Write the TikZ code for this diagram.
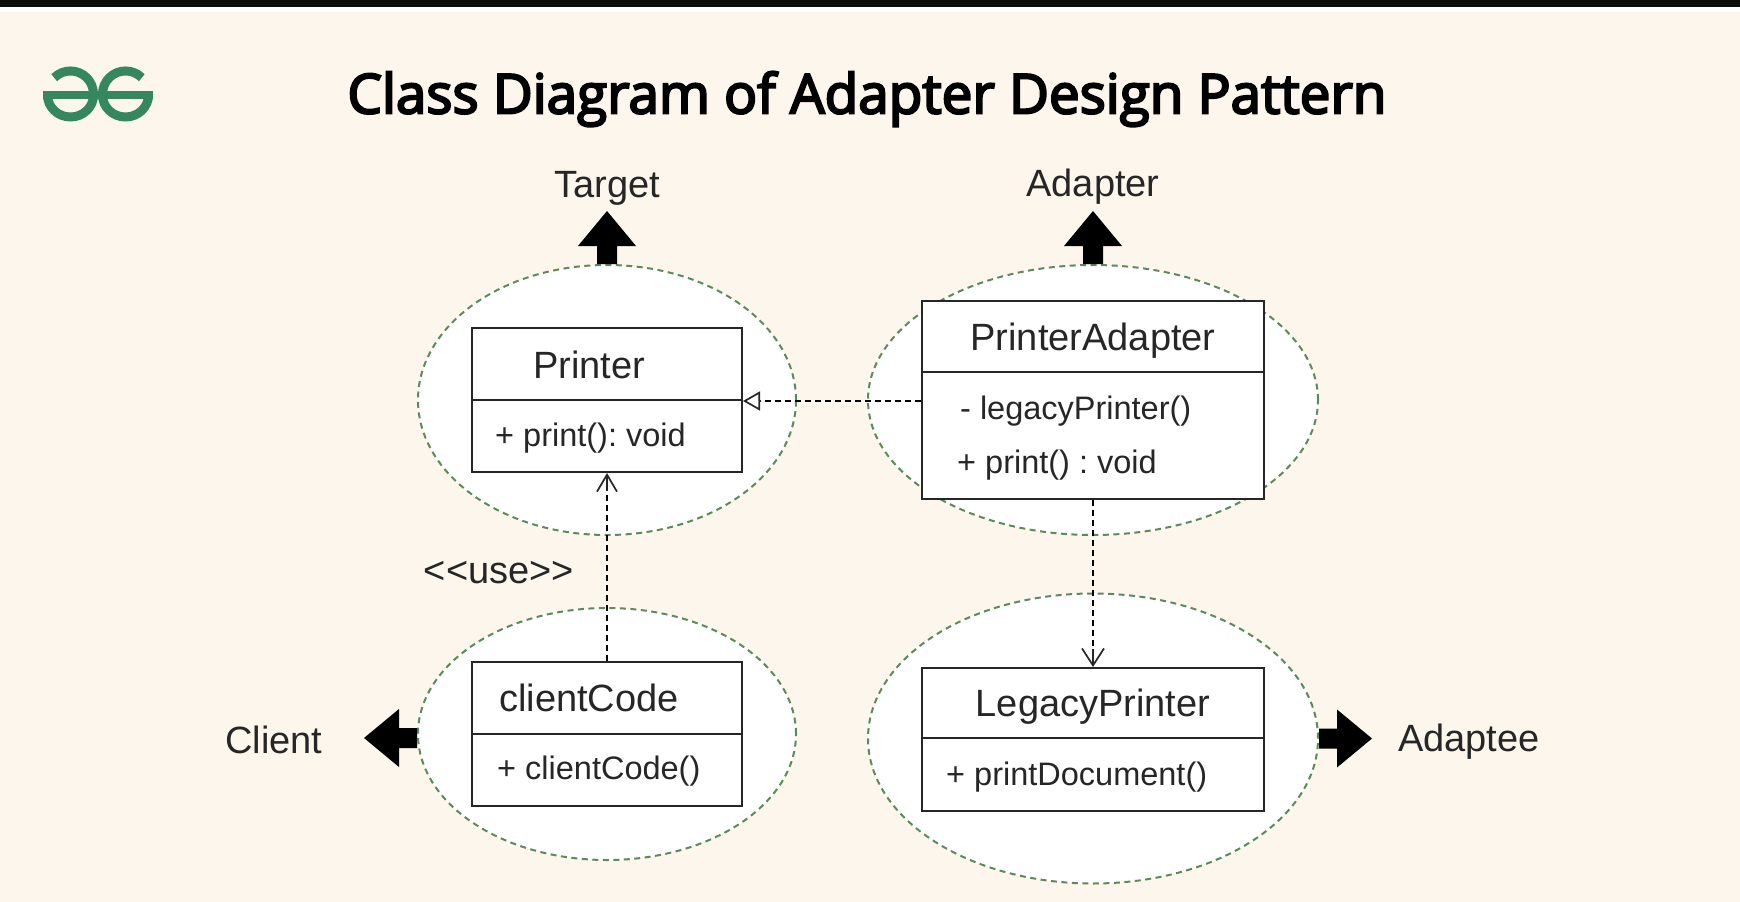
\documentclass[tikz,border=0pt]{standalone}
\usepackage{fontspec}
\setmainfont{Liberation Sans}
\newfontfamily\titlefont{Open Sans}[FakeBold=4]
\usetikzlibrary{arrows.meta,shapes.geometric,calc}
\definecolor{bgcream}{HTML}{FDF6EC}
\definecolor{gfgreen}{HTML}{35875F}
\definecolor{ringgreen}{HTML}{5C8A5C}
\definecolor{inkdark}{HTML}{262626}
\newcommand{\fs}[1]{\fontsize{#1}{#1}\selectfont\frenchspacing}
\tikzset{
  ring/.style={ellipse,draw=ringgreen,fill=white,line width=2pt,dash pattern=on 6pt off 4.5pt,inner sep=0pt},
  part/.style={rectangle,draw=inkdark,fill=white,line width=2pt,inner sep=0pt},
  head/.style={inner sep=0pt,text=inkdark,font=\fs{38}},
  member/.style={inner sep=0pt,anchor=west,text=inkdark,font=\fs{32.5}},
  role/.style={inner sep=0pt,text=inkdark,font=\fs{38}},
  link/.style={draw=black,line width=1.7pt,dash pattern=on 6pt off 4pt},
  bigarrow/.pic={\fill[black] (-10,0) -- (-10,-18) -- (-29,-18) -- (0,-53) -- (29,-18) -- (10,-18) -- (10,0) -- cycle;}
}
\begin{document}
\begin{tikzpicture}[x=1pt,y=-1pt]
\useasboundingbox (0,0) rectangle (1740,902);
\fill[bgcream] (0,0) rectangle (1740,902);
\fill[white] (0,0) rectangle (1740,12);
\fill[black!95] (0,0) rectangle (1740,7);
% logo
\begin{scope}[gfgreen,line width=9pt]
  \draw (54.2,77.7) arc[start angle=135,end angle=0,x radius=23,y radius=-23];
  \draw (141.8,77.7) arc[start angle=45,end angle=180,x radius=23,y radius=-23];
  \draw (47.5,95) arc[start angle=180,end angle=360,x radius=23,y radius=-22];
  \draw (102.5,95) arc[start angle=180,end angle=360,x radius=23,y radius=-22];
\end{scope}
\fill[gfgreen] (43,91) rectangle (153,99);
% title
\node[inner sep=0pt,text=black,font=\titlefont\fs{54.8}] (title) at (867,99) {Class Diagram of Adapter Design Pattern};
% rings
\node[ring,minimum width=378pt,minimum height=270pt] (printerRing) at (607,400) {};
\node[ring,minimum width=450pt,minimum height=270pt] (adapterRing) at (1093,400) {};
\node[ring,minimum width=378pt,minimum height=252pt] (clientRing) at (607,734) {};
\node[ring,minimum width=450pt,minimum height=290pt] (adapteeRing) at (1093,738.5) {};
% class boxes
\node[part,minimum width=270pt,minimum height=72pt] (printerHead) at (607,364) {};
\node[part,minimum width=270pt,minimum height=72pt] (printerBody) at (607,436) {};
\node[part,minimum width=342pt,minimum height=71pt] (adapterHead) at (1093,336.5) {};
\node[part,minimum width=342pt,minimum height=127pt] (adapterBody) at (1093,435.5) {};
\node[part,minimum width=270pt,minimum height=72pt] (clientHead) at (607,698) {};
\node[part,minimum width=270pt,minimum height=72pt] (clientBody) at (607,770) {};
\node[part,minimum width=342pt,minimum height=70pt] (legacyHead) at (1093,703) {};
\node[part,minimum width=342pt,minimum height=73pt] (legacyBody) at (1093,774.5) {};
% class texts
\node[head] (tPrinter) at (589,365) {Printer};
\node[member] (mPrint) at (495,438) {+ print(): void};
\node[head] (tAdapter) at (1093,341) {PrinterAdapter};
\node[member] (mLegacy) at (960,411) {-\hspace{9pt}legacyPrinter()};
\node[member] (mPrintB) at (957,465) {+ print() : void};
\node[head] (tClient) at (589,698) {clientCode};
\node[member] (mClient) at (497,771) {+ clientCode()};
\node[head] (tLegacy) at (1093,707) {LegacyPrinter};
\node[member] (mDoc) at (946,777) {+ printDocument()};
% role labels
\node[role] (rTarget) at (607,188) {Target};
\node[role] (rAdapter) at (1093,187) {Adapter};
\node[role] (rClient) at (274,740) {Client};
\node[role] (rAdaptee) at (1469,742) {Adaptee};
\node[role] (rUse) at (499,573) {<{}<use>{}>};
% thick arrows
\pic[rotate=90] at ($(clientRing.west)+(0,4)$) {bigarrow};
\pic at (printerRing.north) {bigarrow};
\pic at (adapterRing.north) {bigarrow};
\pic[rotate=-90] at (adapteeRing.east) {bigarrow};
% connectors
\draw[link] (adapterBody.west |- printerHead.south east) -- (printerHead.south east);
\draw[draw=inkdark,line width=1.7pt,-{Triangle[open,fill=white,length=17pt,width=19pt]}] ($(printerHead.south east)+(18,0)$) -- (printerHead.south east);
\draw[link] (clientHead.north) -- (printerBody.south);
\draw[draw=inkdark,line width=1.7pt,-{Straight Barb[length=17pt,width=20pt]}] ($(printerBody.south)+(0,18)$) -- (printerBody.south);
\draw[link] (adapterBody.south) -- (legacyHead.north);
\draw[draw=inkdark,line width=1.7pt,-{Straight Barb[length=17pt,width=22pt]}] ($(legacyHead.north)+(0,-18)$) -- (legacyHead.north);
\end{tikzpicture}
\end{document}
